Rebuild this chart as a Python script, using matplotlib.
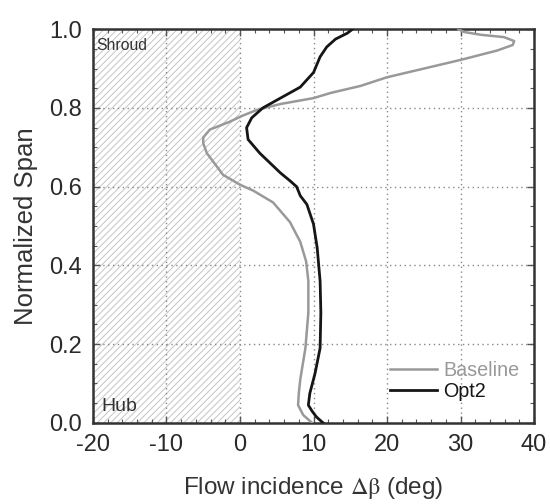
import matplotlib
matplotlib.use('Agg')
import matplotlib.pyplot as plt
from matplotlib.ticker import MultipleLocator, FormatStrFormatter

plt.rcParams['font.family'] = ['Liberation Sans', 'DejaVu Sans']
plt.rcParams['mathtext.fontset'] = 'stix'
plt.rcParams['axes.unicode_minus'] = False
plt.rcParams['hatch.linewidth'] = 0.7
plt.rcParams['hatch.color'] = '#c4c4c4'

# incidence profiles along span (deg, normalized span)
baseline_x = [9.8, 8.6, 7.9, 8.0, 8.2, 8.9, 9.3, 9.3, 9.0, 8.2, 6.8, 4.5, 1.8, 0.0,
              -2.3, -4.5, -5.0, -5.0, -4.1, -1.4, 0.3, 2.3, 5.5, 10.0, 12.3,
              16.4, 20.0, 30.0, 35.0, 37.1, 37.3, 35.9, 32.7, 30.5, 29.7]
baseline_y = [0.0, 0.02, 0.045, 0.075, 0.11, 0.19, 0.28, 0.36, 0.41, 0.46, 0.51, 0.56, 0.59, 0.605,
              0.63, 0.685, 0.71, 0.725, 0.745, 0.765, 0.78, 0.795, 0.81, 0.825, 0.838,
              0.856, 0.878, 0.922, 0.946, 0.96, 0.97, 0.98, 0.986, 0.993, 1.0]

opt2_x = [11.3, 10.4, 9.8, 9.3, 9.5, 10.2, 10.9, 11.0, 10.9, 10.5, 10.0, 9.1, 8.2, 7.7,
          6.8, 5.5, 2.7, 1.1, 0.9, 1.6, 3.1, 5.5, 8.2, 10.0, 10.9, 11.8, 13.0,
          14.6, 15.3]
opt2_y = [0.0, 0.015, 0.03, 0.045, 0.075, 0.125, 0.19, 0.28, 0.36, 0.445, 0.505, 0.555, 0.577, 0.6,
          0.615, 0.635, 0.685, 0.72, 0.75, 0.775, 0.8, 0.825, 0.853, 0.89, 0.93, 0.955, 0.975,
          0.99, 1.0]

fig = plt.figure(figsize=(5.5, 5.04), dpi=100)
ax = fig.add_axes([0.169, 0.161, 0.802, 0.781])

# negative incidence zone
ax.fill_betweenx([0, 1], -20, 0, facecolor='white', hatch='/////', linewidth=0, zorder=0)

ax.plot(baseline_x, baseline_y, color='#999999', lw=1.8, label='Baseline', zorder=3)
ax.plot(opt2_x, opt2_y, color='#161616', lw=2.0, label='Opt2', zorder=3)

ax.set_xlim(-20, 40)
ax.set_ylim(0, 1)
ax.xaxis.set_major_locator(MultipleLocator(10))
ax.xaxis.set_minor_locator(MultipleLocator(2))
ax.yaxis.set_major_locator(MultipleLocator(0.2))
ax.yaxis.set_minor_locator(MultipleLocator(0.05))
ax.yaxis.set_major_formatter(FormatStrFormatter('%.1f'))

ax.tick_params(which='both', direction='in', top=True, right=True,
               color='#555555', labelsize=17, labelcolor='#2a2a2a')
ax.tick_params(which='major', length=5, width=1, pad=8)
ax.tick_params(which='minor', length=3, width=0.8)
ax.grid(True, which='major', linestyle=(0, (1, 2.5)), color='#888888', lw=1.0)

for s in ax.spines.values():
    s.set_linewidth(1.8)
    s.set_color('#333333')

ax.set_xlabel(r'Flow incidence $\mathrm{\Delta\beta}$ (deg)', fontsize=17.5,
              color='#333333', labelpad=14)
ax.set_ylabel('Normalized Span', fontsize=18.5, color='#333333', labelpad=8)

ax.text(-19.6, 0.977, 'Shroud', fontsize=11.3, color='#333333', va='top', ha='left')
ax.text(-18.8, 0.02, 'Hub', fontsize=14, color='#333333', va='bottom', ha='left')

leg = ax.legend(loc='lower left', bbox_to_anchor=(0.673, 0.055), frameon=False,
                fontsize=14.2, handlelength=2.4, handletextpad=0.3,
                labelspacing=0.1, borderaxespad=0, borderpad=0)
for txt, line in zip(leg.get_texts(), leg.get_lines()):
    txt.set_color(line.get_color())

fig.savefig('out.png', dpi=100)
